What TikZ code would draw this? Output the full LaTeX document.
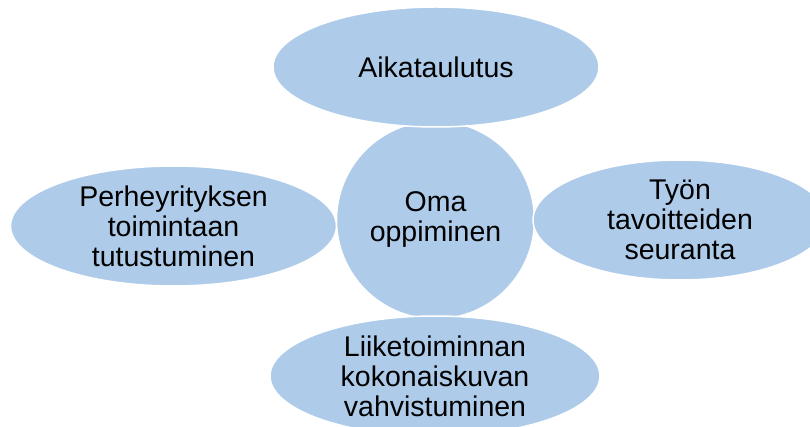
\documentclass[tikz,border=0pt]{standalone}
\usepackage{fontspec}
\setmainfont{Liberation Sans}
\usetikzlibrary{shapes.geometric}
\definecolor{bubble}{RGB}{174,204,234}

\begin{document}
\begin{tikzpicture}[x=1pt,y=-1pt,line width=1.5pt,
  font=\fontsize{28.5}{30}\selectfont,
  oval/.style={ellipse,fill=bubble,draw=white,inner sep=0pt,align=center,
    minimum width=326pt,minimum height=120pt},
  hub/.style={circle,fill=bubble,draw=white,inner sep=0pt,align=center,
    minimum size=198pt}]
  \useasboundingbox (0,0) rectangle (810,427);

  \node[oval] (perhe) at (173.5,226) {Perheyrityksen\\toimintaan\\tutustuminen};
  \node[hub] (oma) at (435.5,220) {Oma\\oppiminen};
  \node[oval] (aika) at (436,67) {Aikataulutus};
  \node[oval,minimum width=294pt] (tyon) at (680,220) {Työn\\tavoitteiden\\seuranta};
  \node[oval,minimum width=330pt] (liike) at (435,376)
    {Liiketoiminnan\\kokonaiskuvan\\vahvistuminen};
\end{tikzpicture}
\end{document}
